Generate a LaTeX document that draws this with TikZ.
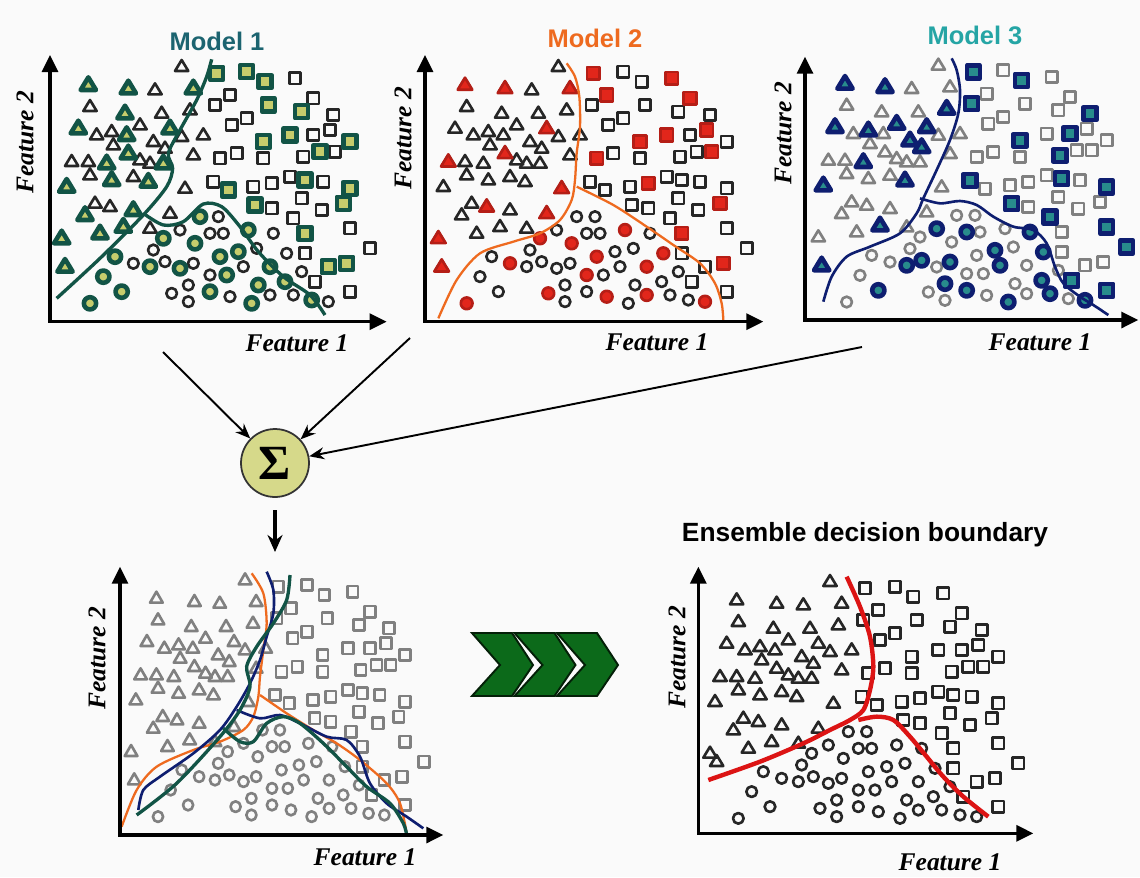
\documentclass[tikz,border=0pt]{standalone}
\usepackage{fontspec}
\setmainfont{Liberation Serif}
\setsansfont{Liberation Sans}
\usepackage{xcolor}
\usepackage{tikz}
\usetikzlibrary{arrows.meta}

\definecolor{bgcol}{RGB}{250,250,250}
\definecolor{mgreen}{RGB}{18,84,70}
\definecolor{mgreenfill}{RGB}{198,204,108}
\definecolor{morange}{RGB}{238,106,31}
\definecolor{mred}{RGB}{226,38,27}
\definecolor{mnavy}{RGB}{14,30,112}
\definecolor{mteal}{RGB}{40,140,140}
\definecolor{titleone}{RGB}{28,100,112}
\definecolor{titlethree}{RGB}{37,165,165}
\definecolor{sumfill}{RGB}{214,217,138}
\definecolor{chevfill}{RGB}{12,106,26}
\definecolor{ensred}{RGB}{220,20,20}

% shared data set (triangles, squares, circles)
\def\tribase{265/255,385/265,465/270,545/200,580/265,270/320,375/340,485/340,570/330,235/385,290/405,335/395,380/405,420/375,460/425,510/385,545/410,610/405,215/485,265/485,320/490,340/435,385/460,420/480,450/490,495/445,490/490,580/465,270/525,335/540,400/530,445/545,555/565,200/560,285/610,330/620,255/645,400/630,510/640,185/715,300/700,370/680,450/685}
\edef\triall{\tribase,195/800}
\edef\triend{\tribase,205/740}
\def\squall{650/220,740/215,795/245,885/235,690/285,645/315,805/315,940/295,905/335,1000/345,695/375,740/355,790/425,870/405,940/405,990/390,1050/425,660/475,710/460,790/475,910/470,960/455,1005/455,640/545,685/570,760/560,815/550,870/530,915/540,970/545,1050/565,765/615,815/625,905/595,965/630,1030/610,880/655,915/700,1050/685,1110/745,915/760,985/800,1040/790,945/845,1050/875}
\def\cirall{345/770,400/790,450/800,495/785,540/805,580/790,460/750,310/830,365/875,270/910,490/715,540/690,600/650,655/650,585/730,630/700,670/700,745/690,820/700,515/880,565/855,565/905,630/825,630/875,680/825,660/770,715/755,730/800,770/745,690/890,755/910,775/855,810/800,810/885,860/760,855/845,880/885,905/815,935/900,985/905}

% model 1 picks
\def\triA{265/255,385/265,580/265,375/340,235/385,380/405,510/385,320/490,385/460,490/490,335/540,445/545,200/560,255/645,400/630,185/715,300/700,370/680,195/800}
\def\squA{650/220,740/215,795/245,805/315,905/335,790/425,870/405,1050/425,960/455,685/570,915/540,1050/565,765/615,1030/610,915/700,985/800,1040/790}
\def\cirA{345/770,450/800,540/805,310/830,365/875,270/910,490/715,600/650,585/730,745/690,630/875,680/825,660/770,715/755,755/910,775/855,810/800,855/845,935/900}
% model 2 picks
\def\triB{265/255,385/265,580/265,510/385,385/460,215/485,330/620,510/640,555/565,185/715,195/800}
\def\squB{650/220,690/285,885/235,940/295,990/390,790/425,870/405,1005/455,660/475,815/550,1030/610,915/700,1040/790}
\def\cirB{490/715,585/730,745/690,400/790,660/770,630/825,810/800,860/760,515/880,690/890,810/885,985/905,270/910}
% model 3 picks
\def\triC{265/255,385/265,570/330,235/385,335/395,420/375,510/385,460/425,495/445,320/490,445/545,200/560,370/680,195/800}
\def\squC{650/220,795/245,645/315,1000/345,790/425,940/405,910/470,640/545,915/540,1050/565,765/615,880/655,1050/685,1110/745,945/845,1050/875}
\def\cirC{540/690,630/700,820/700,495/785,580/790,450/800,715/755,730/800,860/760,565/855,630/875,365/875,855/845,880/885,755/910,985/905}

\def\mk{1}
\newcommand\markT[2]{\foreach \ux/\uy in #2 {\draw[#1] (\ux,\uy) ++(0,{-20*\mk}) -- ++({20*\mk},{33*\mk}) -- ++({-40*\mk},0) -- cycle;}}
\newcommand\markS[2]{\foreach \ux/\uy in #2 {\draw[#1] ({\ux-17*\mk},{\uy-17*\mk}) rectangle ++({34*\mk},{34*\mk});}}
\newcommand\markC[2]{\foreach \ux/\uy in #2 {\draw[#1] (\ux,\uy) circle[radius={16*\mk}];}}
\newcommand\markall[1]{\markT{#1}{\triall}\markS{#1}{\squall}\markC{#1}{\cirall}}

\begin{document}
\begin{tikzpicture}[x=0.02cm, y=-0.02cm,
  >={Triangle[length=3.4mm,width=3.2mm]},
  axisline/.style={line width=1.8pt, <->},
  openpt/.style={line width=1.5pt, draw=black!85, line join=round, /utils/exec={\def\mk{1}}},
  greypt/.style={line width=1.5pt, draw=black!50, line join=round, /utils/exec={\def\mk{1}}},
  hlgreen/.style={line width=2.6pt, draw=mgreen, fill=mgreenfill, line join=round, /utils/exec={\def\mk{1.15}}},
  hlred/.style={line width=1.5pt, draw=mred!80!black, fill=mred, line join=round, /utils/exec={\def\mk{1.1}}},
  hlnavy/.style={line width=2.6pt, draw=mnavy, fill=mteal, line join=round, /utils/exec={\def\mk{1.15}}},
  bndgreen/.style={line width=1.9pt, draw=mgreen},
  bndorange/.style={line width=1.3pt, draw=morange},
  bndnavy/.style={line width=1.5pt, draw=mnavy},
  bndred/.style={line width=2.5pt, draw=ensred},
  feat/.style={font=\bfseries\itshape\fontsize{14.5}{16}\selectfont},
  modeltitle/.style={font=\sffamily\bfseries\fontsize{14.5}{16}\selectfont},
  sumnode/.style={circle, draw=black!80, line width=1pt, fill=sumfill, minimum size=1.36cm, inner sep=0pt, font=\bfseries\fontsize{28}{30}\selectfont},
  feed/.style={line width=1.1pt, -{Stealth[length=3mm,width=2.4mm]}},
  feedthick/.style={line width=2pt, -{Stealth[length=3.4mm,width=3mm]}},
  chev/.style={line width=1.1pt, draw=black!70!chevfill, fill=chevfill, line join=miter}]

  \fill[bgcol] (0,0) rectangle (1140,877);
  \useasboundingbox (0,0) rectangle (1140,877);

  % model 1
  \begin{scope}[shift={(0,0)}, scale=1/3]
    \markall{openpt}
    \markT{hlgreen}{\triA}\markS{hlgreen}{\squA}\markC{hlgreen}{\cirA}
    \draw[bndgreen] plot[smooth] coordinates {(170,895) (300,775) (430,645) (500,560) (518,505) (505,460) (540,390) (590,300) (620,230) (635,178)};
    \draw[bndgreen] plot[smooth] coordinates {(430,640) (490,675) (550,665) (610,612) (665,620) (720,680) (775,755) (850,830) (930,885) (975,945)};
    \draw[axisline] (150,165) -- (150,965) -- (1160,965);
  \end{scope}

  % model 2
  \begin{scope}[shift={(380,0)}, scale=1/3]
    \begin{scope}[shift={(-10,0)}]
      \markall{openpt}
      \markT{hlred}{\triB}\markS{hlred}{\squB}\markC{hlred}{\cirB}
    \end{scope}
    \draw[bndorange] plot[smooth] coordinates {(175,955) (230,840) (300,760) (400,725) (480,700) (540,660) (575,600) (585,540) (590,460) (600,380) (598,290) (585,230) (560,190)};
    \draw[bndorange] plot[smooth] coordinates {(590,560) (700,615) (800,680) (880,735) (960,790) (1005,850) (1025,910) (1030,960)};
    \draw[axisline] (135,165) -- (135,965) -- (1150,965);
  \end{scope}

  % model 3
  \begin{scope}[shift={(760,0)}, scale=1/3]
    \begin{scope}[shift={(-10,-4)}]
      \markall{greypt}
      \markT{hlnavy}{\triC}\markS{hlnavy}{\squC}\markC{hlnavy}{\cirC}
    \end{scope}
    \draw[bndnavy] plot[smooth] coordinates {(190,905) (215,830) (260,770) (330,740) (420,700) (470,640) (490,595) (530,510) (570,420) (595,340) (600,270) (590,210) (575,175)};
    \draw[bndnavy] plot[smooth] coordinates {(480,595) (540,610) (600,603) (650,615) (700,650) (760,680) (820,690) (860,730) (885,800) (910,850) (960,890) (1000,915) (1045,945)};
    \draw[axisline] (135,170) -- (135,960) -- (1135,960);
  \end{scope}

  % combined boundaries
  \begin{scope}[shift={(60,550)}, scale=1/3]
    \begin{scope}[shift={(180,855)}, xscale=0.95, shift={(-150,-965)}]
      \markall{greypt}
    \end{scope}
    \draw[bndorange] plot[smooth] coordinates {(185,830) (230,720) (290,650) (400,600) (480,575) (550,540) (580,500) (595,440) (600,380) (610,300) (620,220) (610,130) (575,70)};
    \draw[bndorange] plot[smooth] coordinates {(600,435) (680,490) (760,540) (830,580) (900,630) (980,700) (1020,760) (1040,850)};
    \draw[bndnavy] plot[smooth] coordinates {(235,780) (250,720) (300,680) (400,610) (480,540) (530,470) (570,400) (600,330) (620,260) (640,190) (640,120) (620,65)};
    \draw[bndnavy] plot[smooth] coordinates {(530,480) (600,505) (660,495) (720,520) (800,560) (860,570) (900,620) (930,700) (980,760) (1040,800) (1090,835)};
    \draw[bndgreen] plot[smooth] coordinates {(230,795) (350,700) (480,560) (540,480) (570,410) (560,350) (590,290) (640,220) (680,150) (690,75)};
    \draw[bndgreen] plot[smooth] coordinates {(490,535) (540,575) (580,575) (620,520) (670,500) (720,520) (790,580) (860,650) (920,710) (990,760) (1030,820) (1040,855)};
    \draw[axisline] (180,50) -- (180,855) -- (1150,855);
  \end{scope}

  % ensemble result
  \begin{scope}[shift={(650,510)}, scale=1/3]
    \begin{scope}[shift={(-5,15)}]
      \markT{openpt}{\triend}\markS{openpt}{\squall}\markC{openpt}{\cirall}
    \end{scope}
    \draw[bndred] plot[smooth] coordinates {(590,200) (630,290) (660,380) (670,470) (660,540) (640,600) (600,630) (540,660) (460,700) (330,755) (175,810)};
    \draw[bndred] plot[smooth] coordinates {(625,630) (680,620) (730,630) (780,680) (830,740) (880,800) (940,860) (1015,920)};
    \draw[axisline] (145,170) -- (145,970) -- (1150,970);
  \end{scope}

  % labels
  \node[modeltitle, text=titleone] (m1) at (217,41) {Model 1};
  \node[modeltitle, text=morange] (m2) at (595,38) {Model 2};
  \node[modeltitle, text=titlethree] (m3) at (975,35) {Model 3};
  \node[modeltitle, font=\sffamily\bfseries\fontsize{15}{17}\selectfont] (ens) at (865,535) {Ensemble decision boundary};
  \node[feat, rotate=90] (fya) at (25,142) {Feature 2};
  \node[feat, rotate=90] (fyb) at (403,138) {Feature 2};
  \node[feat, rotate=90] (fyc) at (783,133) {Feature 2};
  \node[feat, rotate=90] (fyd) at (97,658) {Feature 2};
  \node[feat, rotate=90] (fye) at (677,657) {Feature 2};
  \node[feat] (fxa) at (297,343) {Feature 1};
  \node[feat] (fxb) at (657,342) {Feature 1};
  \node[feat] (fxc) at (1040,342) {Feature 1};
  \node[feat] (fxd) at (365,857) {Feature 1};
  \node[feat] (fxe) at (950,862) {Feature 1};

  % combiner
  \node[sumnode] (sum) at (275,463) {Σ};
  \coordinate (outa) at (163,352);
  \coordinate (outb) at (410,338);
  \coordinate (outc) at (862,347);
  \coordinate (comb) at (275,552);
  \draw[feed] (outa) -- (sum);
  \draw[feed] (outb) -- (sum);
  \draw[feed] (outc) -- (sum);
  \draw[feedthick, shorten <=7pt] (sum.south) -- (comb);

  % chevrons
  \foreach \i in {0,1,2} {
    \draw[chev] ({472+42.5*\i},633) -- ++(40,0) -- ++(21,32) -- ++(-21,31) -- ++(-40,0) -- ++(28,-31) -- cycle;
  }
\end{tikzpicture}
\end{document}
